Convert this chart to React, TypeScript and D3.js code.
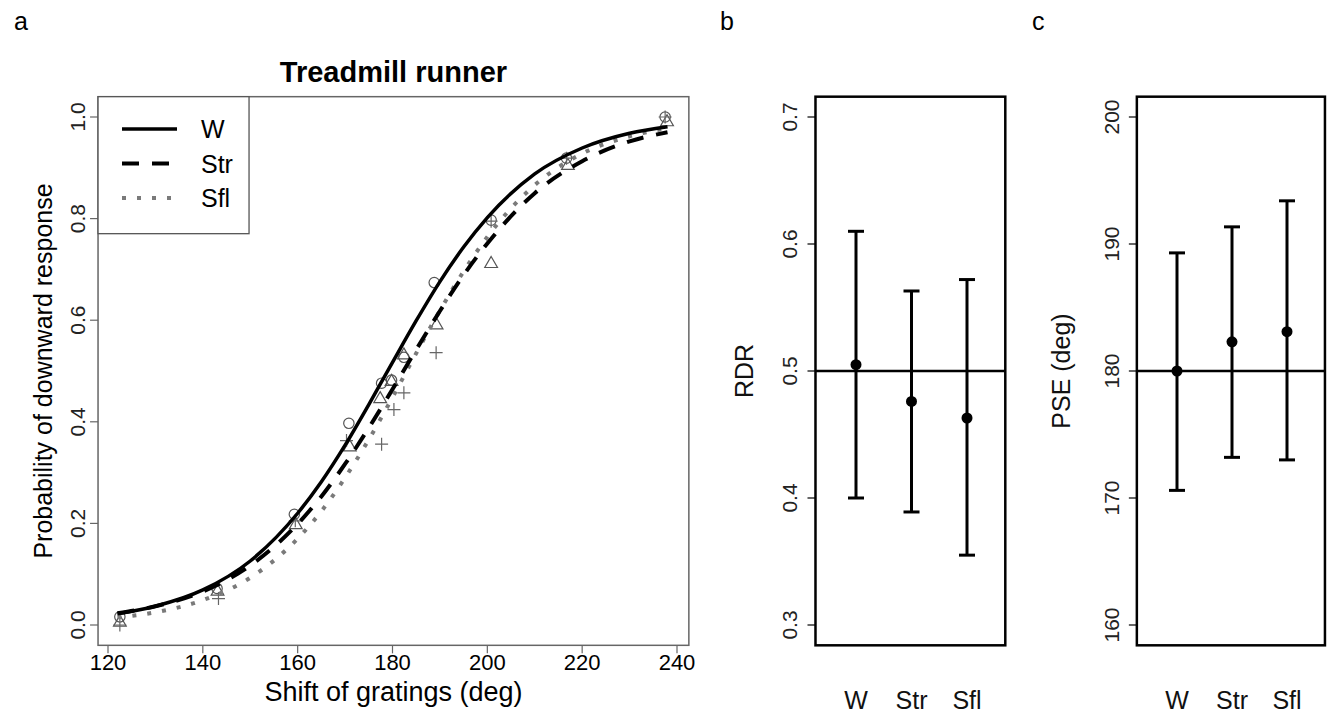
import React from 'react';
import * as d3 from 'd3';

// fitted curves
const curveX = [122, 130, 140, 150, 160, 165, 170, 175, 180, 185, 190, 195, 200, 210, 220, 230, 238];
const curveW = [0.022, 0.037, 0.069, 0.126, 0.220, 0.282, 0.354, 0.434, 0.517, 0.599, 0.676, 0.744, 0.802, 0.888, 0.939, 0.968, 0.981];
const curveStr = [0.023, 0.037, 0.066, 0.117, 0.199, 0.253, 0.317, 0.388, 0.464, 0.542, 0.618, 0.689, 0.751, 0.850, 0.913, 0.952, 0.970];
const curveSfl = [0.015, 0.025, 0.049, 0.093, 0.170, 0.224, 0.290, 0.365, 0.448, 0.535, 0.619, 0.696, 0.764, 0.866, 0.928, 0.962, 0.978];

// observed proportions
const obsWx = [122.5, 143, 159.3, 170.8, 177.7, 179.8, 182.4, 188.8, 200.8, 216.7, 237.5];
const obsWy = [0.016, 0.072, 0.218, 0.397, 0.476, 0.482, 0.527, 0.674, 0.797, 0.919, 1.0];
const obsStrx = [122.5, 143.1, 159.6, 171.0, 177.4, 179.8, 182.4, 189.3, 200.8, 217, 237.9];
const obsStry = [0.005, 0.066, 0.197, 0.35, 0.445, 0.479, 0.531, 0.59, 0.711, 0.904, 0.99];
const obsSflx = [122.5, 143.3, 159.5, 170.3, 177.7, 180.3, 182.4, 189.2, 200.8, 216.7, 237.5];
const obsSfly = [0.0, 0.052, 0.205, 0.363, 0.356, 0.424, 0.457, 0.536, 0.795, 0.919, 1.0];

const groups = ['W', 'Str', 'Sfl'];
const rdrMean = [0.505, 0.476, 0.463];
const rdrLow = [0.40, 0.389, 0.355];
const rdrHigh = [0.61, 0.563, 0.572];
const pseMean = [180.0, 182.3, 183.1];
const pseLow = [170.6, 173.2, 173.0];
const pseHigh = [189.3, 191.35, 193.4];

const xTicksA = [120, 140, 160, 180, 200, 220, 240];
const yTicksA = [0, 0.2, 0.4, 0.6, 0.8, 1.0];
const yTicksB = [0.3, 0.4, 0.5, 0.6, 0.7];
const yTicksC = [160, 170, 180, 190, 200];

const FONT = 'Liberation Sans, Arial, sans-serif';
const GREY = '#7a7a7a';

const ErrPanel = ({ catRange, domain, ticks, mean, low, high, refVal, label, letter, letterX, labelX, fmt }) => {
  const x = d3.scaleLinear().domain([1, 3]).range(catRange);
  const pad = (domain[1] - domain[0]) * 0.04;
  const y = d3.scaleLinear().domain(domain).range([625, 117]);
  const bx0 = x(0.27), bx1 = x(3.69);
  const by0 = y(domain[1] + pad), by1 = y(domain[0] - pad);
  return (
    <g>
      <text x={letterX} y={30} fontSize={25} fontFamily={FONT}>{letter}</text>
      <rect x={bx0} y={by0} width={bx1 - bx0} height={by1 - by0} fill="none" stroke="#000" strokeWidth={2.5} />
      {ticks.map(t => (
        <g key={t}>
          <line x1={bx0} x2={bx0 - 8} y1={y(t)} y2={y(t)} stroke="#000" strokeWidth={1.2} />
          <text transform={`translate(${bx0 - 18},${y(t)}) rotate(-90)`} textAnchor="middle" fontSize={21} fontFamily={FONT} fill="#222">{fmt(t)}</text>
        </g>
      ))}
      <text transform={`translate(${labelX},371) rotate(-90)`} textAnchor="middle" fontSize={25} fontFamily={FONT} fill="#111">{label}</text>
      <line x1={bx0} x2={bx1} y1={y(refVal)} y2={y(refVal)} stroke="#000" strokeWidth={2.5} />
      {groups.map((g, i) => (
        <g key={g}>
          <line x1={x(i + 1)} x2={x(i + 1)} y1={y(low[i])} y2={y(high[i])} stroke="#000" strokeWidth={3} />
          <line x1={x(i + 1) - 8} x2={x(i + 1) + 8} y1={y(low[i])} y2={y(low[i])} stroke="#000" strokeWidth={3} />
          <line x1={x(i + 1) - 8} x2={x(i + 1) + 8} y1={y(high[i])} y2={y(high[i])} stroke="#000" strokeWidth={3} />
          <circle cx={x(i + 1)} cy={y(mean[i])} r={5.5} fill="#000" />
          <text x={x(i + 1)} y={709} textAnchor="middle" fontSize={25} fontFamily={FONT} fill="#111">{g}</text>
        </g>
      ))}
    </g>
  );
};

export default function App() {
  const x = d3.scaleLinear().domain([120, 240]).range([108, 677]);
  const y = d3.scaleLinear().domain([0, 1]).range([625, 117]);
  const bx0 = x(117.9), bx1 = x(242.5), by0 = y(1.04), by1 = y(-0.04);

  const line = d3.line<number>().x((_, i) => x(curveX[i])).y(d => y(d)).curve(d3.curveMonotoneX);
  const tri = d3.symbol(d3.symbolTriangle, 70)();
  const f1 = d3.format('.1f');

  const legend = [
    { name: 'W', color: '#000', dash: null, w: 3.5 },
    { name: 'Str', color: '#000', dash: '17 13', w: 4 },
    { name: 'Sfl', color: GREY, dash: '4 11', w: 4 },
  ];

  return (
    <svg width={1327} height={720} style={{ position: 'absolute', left: 0, top: 0, background: '#fff' }}>
      <text x={14} y={30} fontSize={25} fontFamily={FONT}>a</text>
      <text x={(bx0 + bx1) / 2} y={82} textAnchor="middle" fontSize={29} fontWeight="bold" fontFamily={FONT}>Treadmill runner</text>

      {/* markers */}
      {obsWx.map((v, i) => (
        <circle key={'c' + i} cx={x(v)} cy={y(obsWy[i])} r={5.2} fill="none" stroke="#555" strokeWidth={1.2} />
      ))}
      {obsStrx.map((v, i) => (
        <path key={'t' + i} d={tri} transform={`translate(${x(v)},${y(obsStry[i])})`} fill="none" stroke="#555" strokeWidth={1.2} />
      ))}
      {obsSflx.map((v, i) => (
        <path key={'p' + i} d="M-6.5,0H6.5M0,-6.5V6.5" transform={`translate(${x(v)},${y(obsSfly[i])})`} stroke="#666" strokeWidth={1.2} />
      ))}

      {/* fitted curves */}
      <path d={line(curveSfl)} fill="none" stroke={GREY} strokeWidth={4} strokeDasharray="4 11" />
      <path d={line(curveStr)} fill="none" stroke="#000" strokeWidth={4} strokeDasharray="17 13" />
      <path d={line(curveW)} fill="none" stroke="#000" strokeWidth={3.5} />

      <rect x={bx0} y={by0} width={bx1 - bx0} height={by1 - by0} fill="none" stroke="#666" strokeWidth={1.5} />
      {xTicksA.map(t => (
        <g key={t}>
          <line x1={x(t)} x2={x(t)} y1={by1} y2={by1 + 8} stroke="#666" strokeWidth={1.2} />
          <text x={x(t)} y={670} textAnchor="middle" fontSize={22} fontFamily={FONT} fill="#000">{t}</text>
        </g>
      ))}
      {yTicksA.map(t => (
        <g key={t}>
          <line x1={bx0} x2={bx0 - 8} y1={y(t)} y2={y(t)} stroke="#666" strokeWidth={1.2} />
          <text transform={`translate(${bx0 - 13},${y(t)}) rotate(-90)`} textAnchor="middle" fontSize={21} fontFamily={FONT} fill="#222">{f1(t)}</text>
        </g>
      ))}
      <text x={(bx0 + bx1) / 2} y={701} textAnchor="middle" fontSize={27} fontFamily={FONT} fill="#000">Shift of gratings (deg)</text>
      <text transform={`translate(52,${y(0.5)}) rotate(-90)`} textAnchor="middle" fontSize={25} fontFamily={FONT} fill="#000">Probability of downward response</text>

      {/* legend */}
      <rect x={bx0} y={by0} width={151} height={137} fill="#fff" stroke="#555" strokeWidth={1.3} />
      {legend.map((l, i) => (
        <g key={l.name}>
          <line x1={122} x2={177} y1={129 + i * 34.5} y2={129 + i * 34.5} stroke={l.color} strokeWidth={l.w} strokeDasharray={l.dash || undefined} />
          <text x={201} y={138 + i * 34.5} fontSize={25} fontFamily={FONT} fill="#000">{l.name}</text>
        </g>
      ))}

      <ErrPanel catRange={[856, 967]} domain={[0.3, 0.7]} ticks={yTicksB} mean={rdrMean} low={rdrLow} high={rdrHigh}
        refVal={0.5} label="RDR" letter="b" letterX={720} labelX={753} fmt={f1} />
      <ErrPanel catRange={[1177, 1287]} domain={[160, 200]} ticks={yTicksC} mean={pseMean} low={pseLow} high={pseHigh}
        refVal={180} label="PSE (deg)" letter="c" letterX={1032} labelX={1070} fmt={d3.format('d')} />
    </svg>
  );
}
